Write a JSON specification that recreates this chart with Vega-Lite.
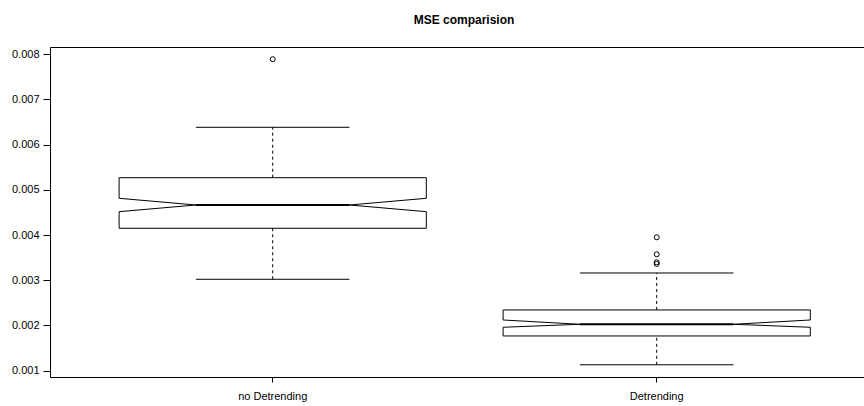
{
  "$schema": "https://vega.github.io/schema/vega-lite/v6.json",
  "autosize": {"type": "none"},
  "padding": {"left": 50, "top": 47, "right": 0, "bottom": 29},
  "width": 814,
  "height": 330,
  "title": {"text": "MSE comparision", "fontSize": 12, "fontWeight": "bold", "font": "Liberation Sans", "color": "black", "anchor": "middle", "frame": "group", "dx": 7, "baseline": "alphabetic", "offset": 11},
  "config": {"view": {"stroke": null}, "font": "Liberation Sans"},
  "datasets": {
    "stats": [
      {"group": "no Detrending", "wlo": 0.003022, "q1": 0.00415, "nlo": 0.004517, "med": 0.004665, "nhi": 0.004813, "q3": 0.005269, "whi": 0.006384},
      {"group": "Detrending", "wlo": 0.00113, "q1": 0.001768, "nlo": 0.00196, "med": 0.002026, "nhi": 0.002121, "q3": 0.002343, "whi": 0.003161}
    ],
    "out": [
      {"group": "no Detrending", "value": 0.00789},
      {"group": "Detrending", "value": 0.003951},
      {"group": "Detrending", "value": 0.003575},
      {"group": "Detrending", "value": 0.003398},
      {"group": "Detrending", "value": 0.00336}
    ]
  },
  "layer": [
    {
      "data": {"name": "stats"},
      "mark": {"type": "rule", "color": "black", "strokeWidth": 1, "strokeDash": [3, 3]},
      "encoding": {
        "x": {"field": "group", "type": "nominal", "bandPosition": 0.5, "title": null,
          "scale": {"domain": ["no Detrending", "Detrending"], "paddingInner": 0.2, "paddingOuter": 0.1599, "align": 0.5627},
          "axis": {"labelAngle": 0, "domain": true, "domainColor": "black", "domainWidth": 1, "ticks": true, "tickColor": "black", "tickSize": 5, "labelColor": "black", "labelFontSize": 11, "labelFont": "Liberation Sans", "labelPadding": 8, "grid": false}},
        "y": {"field": "q3", "type": "quantitative", "title": null,
          "scale": {"domain": [0.00086, 0.00816], "nice": false, "zero": false},
          "axis": {"values": [0.001, 0.002, 0.003, 0.004, 0.005, 0.006, 0.007, 0.008, 0.00816],
            "labelExpr": "datum.value > 0.0081 ? '' : format(datum.value, '.3f')",
            "domain": true, "domainColor": "black", "domainWidth": 1,
            "tickColor": "black", "tickSize": 7,
            "tickOpacity": {"condition": {"test": "datum.value > 0.0081", "value": 0}, "value": 1},
            "grid": true, "gridColor": "black", "gridWidth": 1,
            "gridOpacity": {"condition": {"test": "datum.value > 0.0081", "value": 1}, "value": 0},
            "labelColor": "black", "labelFontSize": 11, "labelFont": "Liberation Sans", "labelPadding": 4}},
        "y2": {"field": "whi"}
      }
    },
    {
      "data": {"name": "stats"},
      "mark": {"type": "rule", "color": "black", "strokeWidth": 1, "strokeDash": [3, 3]},
      "encoding": {
        "x": {"field": "group", "type": "nominal", "bandPosition": 0.5, "title": null},
        "y": {"field": "wlo", "type": "quantitative", "title": null},
        "y2": {"field": "q1"}
      }
    },
    {
      "data": {"name": "stats"},
      "mark": {"type": "rule", "color": "black", "strokeWidth": 1},
      "encoding": {
        "x": {"field": "group", "type": "nominal", "bandPosition": 0.25, "title": null},
        "x2": {"field": "group", "bandPosition": 0.75},
        "y": {"field": "whi", "type": "quantitative", "title": null}
      }
    },
    {
      "data": {"name": "stats"},
      "mark": {"type": "rule", "color": "black", "strokeWidth": 1},
      "encoding": {
        "x": {"field": "group", "type": "nominal", "bandPosition": 0.25, "title": null},
        "x2": {"field": "group", "bandPosition": 0.75},
        "y": {"field": "wlo", "type": "quantitative", "title": null}
      }
    },
    {
      "data": {"name": "stats"},
      "mark": {"type": "rule", "color": "black", "strokeWidth": 1},
      "encoding": {
        "x": {"field": "group", "type": "nominal", "bandPosition": 0, "title": null},
        "x2": {"field": "group", "bandPosition": 1},
        "y": {"field": "q3", "type": "quantitative", "title": null}
      }
    },
    {
      "data": {"name": "stats"},
      "mark": {"type": "rule", "color": "black", "strokeWidth": 1},
      "encoding": {
        "x": {"field": "group", "type": "nominal", "bandPosition": 0, "title": null},
        "x2": {"field": "group", "bandPosition": 1},
        "y": {"field": "q1", "type": "quantitative", "title": null}
      }
    },
    {
      "data": {"name": "stats"},
      "mark": {"type": "rule", "color": "black", "strokeWidth": 1},
      "encoding": {
        "x": {"field": "group", "type": "nominal", "bandPosition": 0, "title": null},
        "y": {"field": "q3", "type": "quantitative", "title": null},
        "y2": {"field": "nhi"}
      }
    },
    {
      "data": {"name": "stats"},
      "mark": {"type": "rule", "color": "black", "strokeWidth": 1},
      "encoding": {
        "x": {"field": "group", "type": "nominal", "bandPosition": 1, "title": null},
        "y": {"field": "q3", "type": "quantitative", "title": null},
        "y2": {"field": "nhi"}
      }
    },
    {
      "data": {"name": "stats"},
      "mark": {"type": "rule", "color": "black", "strokeWidth": 1},
      "encoding": {
        "x": {"field": "group", "type": "nominal", "bandPosition": 0, "title": null},
        "y": {"field": "q1", "type": "quantitative", "title": null},
        "y2": {"field": "nlo"}
      }
    },
    {
      "data": {"name": "stats"},
      "mark": {"type": "rule", "color": "black", "strokeWidth": 1},
      "encoding": {
        "x": {"field": "group", "type": "nominal", "bandPosition": 1, "title": null},
        "y": {"field": "q1", "type": "quantitative", "title": null},
        "y2": {"field": "nlo"}
      }
    },
    {
      "data": {"name": "stats"},
      "mark": {"type": "rule", "color": "black", "strokeWidth": 1},
      "encoding": {
        "x": {"field": "group", "type": "nominal", "bandPosition": 0, "title": null},
        "x2": {"field": "group", "bandPosition": 0.25},
        "y": {"field": "nhi", "type": "quantitative", "title": null},
        "y2": {"field": "med"}
      }
    },
    {
      "data": {"name": "stats"},
      "mark": {"type": "rule", "color": "black", "strokeWidth": 1},
      "encoding": {
        "x": {"field": "group", "type": "nominal", "bandPosition": 1, "title": null},
        "x2": {"field": "group", "bandPosition": 0.75},
        "y": {"field": "nhi", "type": "quantitative", "title": null},
        "y2": {"field": "med"}
      }
    },
    {
      "data": {"name": "stats"},
      "mark": {"type": "rule", "color": "black", "strokeWidth": 1},
      "encoding": {
        "x": {"field": "group", "type": "nominal", "bandPosition": 0, "title": null},
        "x2": {"field": "group", "bandPosition": 0.25},
        "y": {"field": "nlo", "type": "quantitative", "title": null},
        "y2": {"field": "med"}
      }
    },
    {
      "data": {"name": "stats"},
      "mark": {"type": "rule", "color": "black", "strokeWidth": 1},
      "encoding": {
        "x": {"field": "group", "type": "nominal", "bandPosition": 1, "title": null},
        "x2": {"field": "group", "bandPosition": 0.75},
        "y": {"field": "nlo", "type": "quantitative", "title": null},
        "y2": {"field": "med"}
      }
    },
    {
      "data": {"name": "stats"},
      "mark": {"type": "rule", "color": "black", "strokeWidth": 2},
      "encoding": {
        "x": {"field": "group", "type": "nominal", "bandPosition": 0.25, "title": null},
        "x2": {"field": "group", "bandPosition": 0.75},
        "y": {"field": "med", "type": "quantitative", "title": null}
      }
    },
    {
      "data": {"name": "out"},
      "mark": {"type": "point", "shape": "circle", "filled": false, "color": "black", "strokeWidth": 1, "size": 25, "opacity": 1},
      "encoding": {
        "x": {"field": "group", "type": "nominal", "bandPosition": 0.5, "title": null},
        "y": {"field": "value", "type": "quantitative", "title": null}
      }
    }
  ]
}
